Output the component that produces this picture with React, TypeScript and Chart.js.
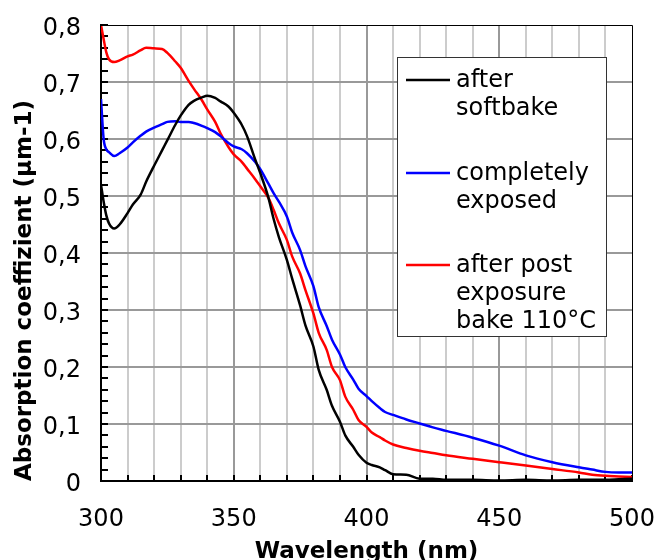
import React, { useEffect, useRef } from "react";
import { Chart, registerables } from "chart.js";

Chart.register(...registerables);

// Wavelength grid (nm)
const wavelengths = [
  300, 301, 302, 303, 305, 307, 310, 312, 315, 317, 320, 323, 325, 328, 330, 333, 335, 338, 340, 343,
  345, 348, 350, 353, 355, 358, 360, 363, 365, 367, 370, 372, 375, 377, 380, 382, 385, 387, 390, 392,
  395, 397, 400, 402, 405, 407, 410, 415, 420, 425, 430, 440, 450, 460, 470, 480, 485, 490, 495, 500,
];

// Absorption coefficient (µm-1)
const afterSoftbake = [
  0.52, 0.49, 0.466, 0.452, 0.443, 0.45, 0.47, 0.485, 0.503, 0.525, 0.553, 0.58, 0.598, 0.625, 0.641, 0.66, 0.667, 0.673, 0.676, 0.672,
  0.666, 0.657, 0.646, 0.625, 0.605, 0.565, 0.54, 0.498, 0.46, 0.428, 0.388, 0.355, 0.308, 0.273, 0.236, 0.195, 0.16, 0.132, 0.104, 0.08,
  0.06, 0.046, 0.032, 0.028, 0.024, 0.019, 0.012, 0.011, 0.004, 0.004, 0.002, 0.002, 0.001, 0.002, 0.001, 0.002, 0.002, 0.002, 0.003, 0.004,
];

const completelyExposed = [
  0.67, 0.6, 0.582, 0.577, 0.57, 0.575, 0.585, 0.594, 0.606, 0.613, 0.62, 0.626, 0.63, 0.631, 0.63, 0.63, 0.628, 0.623, 0.619, 0.612,
  0.605, 0.593, 0.587, 0.582, 0.575, 0.56, 0.547, 0.522, 0.505, 0.49, 0.464, 0.436, 0.405, 0.377, 0.342, 0.305, 0.272, 0.248, 0.222, 0.2,
  0.178, 0.162, 0.149, 0.14, 0.128, 0.121, 0.116, 0.108, 0.101, 0.094, 0.088, 0.076, 0.062, 0.045, 0.033, 0.024, 0.02, 0.016, 0.015, 0.015,
];

const afterPostExposureBake = [
  0.8, 0.775, 0.752, 0.74, 0.735, 0.738, 0.745, 0.748, 0.756, 0.76, 0.759, 0.758, 0.751, 0.736, 0.725, 0.702, 0.688, 0.668, 0.652, 0.63,
  0.61, 0.586, 0.573, 0.56, 0.548, 0.53, 0.517, 0.497, 0.476, 0.452, 0.423, 0.394, 0.364, 0.335, 0.294, 0.26, 0.23, 0.2, 0.177, 0.148,
  0.125, 0.107, 0.095, 0.085, 0.077, 0.071, 0.064, 0.058, 0.053, 0.049, 0.045, 0.039, 0.033, 0.027, 0.021, 0.015, 0.011, 0.009, 0.008, 0.007,
];

const seriesLabels = [
  ["after", "softbake"],
  ["completely", "exposed"],
  ["after post", "exposure", "bake 110°C"],
];
const seriesColors = ["#000000", "#0000ff", "#ff0000"];

const xTickLabels = [300, 350, 400, 450, 500];
const yTickLabels = ["0", "0,1", "0,2", "0,3", "0,4", "0,5", "0,6", "0,7", "0,8"];

const xTitle = "Wavelength (nm)";
const yTitle = "Absorption coeffizient (µm-1)";

const FONT = "'DejaVu Sans', Verdana, sans-serif";

const isMajorY = (v: number) => Math.abs(v * 10 - Math.round(v * 10)) < 1e-6;

const zeroPadding = (s: any) => {
  s.paddingTop = 0;
  s.paddingBottom = 0;
  s.paddingLeft = 0;
  s.paddingRight = 0;
};

const frameAndLegend = {
  id: "frameAndLegend",
  afterDatasetsDraw(chart: any) {
    const { ctx, chartArea: a } = chart;
    ctx.save();
    // top and right frame
    ctx.strokeStyle = "#000";
    ctx.lineWidth = 1;
    ctx.beginPath();
    ctx.moveTo(a.left, a.top + 0.5);
    ctx.lineTo(a.right + 0.5, a.top + 0.5);
    ctx.lineTo(a.right + 0.5, a.bottom);
    ctx.stroke();

    // legend box
    const bx = a.left + 296;
    const by = a.top + 32;
    const bw = 209;
    const bh = 279;
    ctx.fillStyle = "#ffffff";
    ctx.fillRect(bx, by, bw, bh);
    ctx.strokeStyle = "#333";
    ctx.lineWidth = 1;
    ctx.strokeRect(bx + 0.5, by + 0.5, bw, bh);

    const groupY = [55, 148, 240];
    ctx.font = `24px ${FONT}`;
    ctx.textBaseline = "middle";
    ctx.textAlign = "left";
    chart.data.datasets.forEach((ds: any, i: number) => {
      const y0 = a.top + groupY[i];
      ctx.strokeStyle = ds.borderColor;
      ctx.lineWidth = 2.5;
      ctx.beginPath();
      ctx.moveTo(a.left + 305, y0);
      ctx.lineTo(a.left + 349, y0);
      ctx.stroke();
      ctx.fillStyle = "#000";
      (ds.labelLines as string[]).forEach((t, j) => {
        ctx.fillText(t, a.left + 355, y0 + 1 + j * 28);
      });
    });
    ctx.restore();
  },
};

export default function App() {
  const canvasRef = useRef<HTMLCanvasElement | null>(null);

  useEffect(() => {
    const canvas = canvasRef.current;
    if (!canvas) return;
    const series = [afterSoftbake, completelyExposed, afterPostExposureBake];
    const chart = new Chart(canvas, {
      type: "line",
      data: {
        datasets: series.map((vals, i) => ({
          label: seriesLabels[i].join(" "),
          labelLines: seriesLabels[i],
          data: wavelengths.map((w, k) => ({ x: w, y: vals[k] })),
          borderColor: seriesColors[i],
          backgroundColor: seriesColors[i],
          borderWidth: 2.5,
          pointRadius: 0,
          cubicInterpolationMode: "monotone",
          fill: false,
        })) as any,
      },
      options: {
        responsive: false,
        animation: false,
        events: [],
        layout: { padding: { top: 25, right: 23, left: 0, bottom: 0 } },
        plugins: {
          legend: { display: false },
          tooltip: { enabled: false },
        },
        scales: {
          x: {
            type: "linear",
            min: 300,
            max: 500,
            afterFit: (s: any) => {
              s.height = 85;
              zeroPadding(s);
            },
            ticks: {
              stepSize: 10,
              autoSkip: false,
              maxRotation: 0,
              minRotation: 0,
              padding: 30,
              color: "#000",
              font: { family: FONT, size: 24 },
              callback: (v: any) => (xTickLabels.includes(Number(v)) ? String(v) : ""),
            },
            grid: {
              color: (c: any) => {
                const v = c.tick?.value;
                if (v === 300 || v === 500) return "rgba(0,0,0,0)";
                return v % 50 === 0 ? "#999999" : "#cccccc";
              },
              lineWidth: 2,
              tickLength: -6,
              tickColor: "#000",
              tickWidth: 2,
            },
            border: { color: "#000", width: 2 },
            title: {
              display: true,
              text: xTitle,
              color: "#000",
              font: { family: FONT, size: 23, weight: "bold" },
              padding: { top: 0, bottom: 0 },
            },
          },
          y: {
            type: "linear",
            min: 0,
            max: 0.8,
            afterFit: (s: any) => {
              s.width = 101;
              zeroPadding(s);
            },
            ticks: {
              stepSize: 0.02,
              autoSkip: false,
              padding: 27,
              labelOffset: 4,
              color: "#000",
              font: { family: FONT, size: 24 },
              callback: (v: any) => (isMajorY(Number(v)) ? yTickLabels[Math.round(Number(v) * 10)] : ""),
            },
            grid: {
              color: (c: any) => {
                const v = c.tick?.value;
                if (v === undefined) return "rgba(0,0,0,0)";
                if (Math.abs(v) < 1e-6 || Math.abs(v - 0.8) < 1e-6) return "rgba(0,0,0,0)";
                return isMajorY(v) ? "#999999" : "rgba(0,0,0,0)";
              },
              lineWidth: 2,
              tickLength: -7,
              tickColor: "#000",
              tickWidth: 2,
            },
            border: { color: "#000", width: 2 },
            title: {
              display: true,
              text: yTitle,
              align: "start",
              color: "#000",
              font: { family: FONT, size: 23, weight: "bold" },
              padding: { top: 11, bottom: 0 },
            },
          },
        },
      } as any,
      plugins: [frameAndLegend],
    });
    return () => chart.destroy();
  }, []);

  return (
    <div style={{ position: "absolute", left: 0, top: 0, width: 655, height: 566 }}>
      <canvas ref={canvasRef} width={655} height={566} style={{ display: "block" }} />
    </div>
  );
}
